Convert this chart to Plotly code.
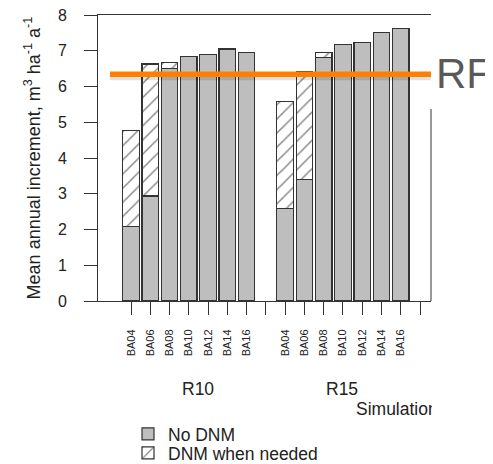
import plotly.graph_objects as go

# ---- data ----
groups = ["R10", "R15"]
scenarios = ["BA04", "BA06", "BA08", "BA10", "BA12", "BA14", "BA16"]
r10_no_dnm = [2.08, 2.94, 6.51, 6.85, 6.90, 7.05, 6.94]
r10_dnm_total = [4.76, 6.63, 6.68, None, None, None, None]
r15_no_dnm = [2.58, 3.40, 6.82, 7.18, 7.24, 7.52, 7.63]
r15_dnm_total = [5.59, 6.43, 6.94, None, None, None, None]
rf_level = 6.34
y_ticks = [0, 1, 2, 3, 4, 5, 6, 7, 8]

no_dnm = [r10_no_dnm, r15_no_dnm]
dnm_total = [r10_dnm_total, r15_dnm_total]

step = len(scenarios) + 1
xs, base_vals, extra_vals = [], [], []
tickvals, ticktext, gap_ticks = [], [], []
for g in range(len(groups)):
    for i, s in enumerate(scenarios):
        pos = g * step + i + 1
        xs.append(pos)
        b = no_dnm[g][i]
        t = dnm_total[g][i]
        base_vals.append(b)
        extra_vals.append(None if t is None else t - b)
        tickvals.append(pos)
        ticktext.append(s)
    gap_ticks.append(g * step + step)

FONT = "Liberation Sans, Arial, sans-serif"
TXT = "#222222"
LINE = "#333333"
OFF = 8  # page body offset

fig = go.Figure()
fig.add_trace(go.Bar(
    x=xs, y=base_vals, name="No DNM", width=0.86, legend="legend",
    marker=dict(color="#BEBEBE", line=dict(color=LINE, width=1.2)),
))
fig.add_trace(go.Bar(
    x=xs, y=extra_vals, name="DNM when needed", width=0.86, legend="legend2",
    marker=dict(color="white", line=dict(color=LINE, width=1.2),
                pattern=dict(shape="/", fgcolor="#111111", bgcolor="white",
                             size=10, solidity=0.15)),
))

# RF reference line with soft shadow
fig.add_shape(type="line", xref="x domain", yref="y", x0=0.036, x1=1.0,
              y0=rf_level - 0.07, y1=rf_level - 0.07,
              line=dict(color="rgba(0,0,0,0.12)", width=7), layer="above")
fig.add_shape(type="line", xref="x domain", yref="y", x0=0.036, x1=1.0,
              y0=rf_level, y1=rf_level,
              line=dict(color="#FF8000", width=5.5), layer="above")
# right frame line (partially hidden in original)
fig.add_shape(type="line", xref="x domain", yref="y", x0=1.0, x1=1.0,
              y0=0, y1=5.37, line=dict(color=LINE, width=1))

fig.add_annotation(text="RF", xref="paper", yref="paper", x=1.098, y=0.795,
                   xanchor="center", yanchor="middle", showarrow=False,
                   font=dict(family=FONT, size=42, color="#595959"))

# y axis title
fig.add_annotation(text="Mean annual increment, m<sup>3</sup> ha<sup>-1</sup> a<sup>-1</sup>",
                   xref="paper", yref="paper", x=-0.197, y=0.5, textangle=-90,
                   xanchor="center", yanchor="middle", showarrow=False,
                   font=dict(family=FONT, size=18, color=TXT))

# group labels
fig.add_annotation(text=groups[0], xref="paper", yref="paper", x=0.299, y=-0.308,
                   xanchor="center", yanchor="middle", showarrow=False,
                   font=dict(family=FONT, size=17.5, color=TXT))
fig.add_annotation(text=groups[1], xref="paper", yref="paper", x=0.732, y=-0.308,
                   xanchor="center", yanchor="middle", showarrow=False,
                   font=dict(family=FONT, size=17.5, color=TXT))
fig.add_annotation(text="Simulation", xref="paper", yref="paper", x=0.772, y=-0.378,
                   xanchor="left", yanchor="middle", showarrow=False, width=76,
                   align="left", borderpad=0,
                   font=dict(family=FONT, size=17.5, color=TXT))

leg_common = dict(xref="container", yref="container", xanchor="left",
                  yanchor="middle", font=dict(family=FONT, size=17.5, color=TXT),
                  bgcolor="rgba(0,0,0,0)", itemwidth=30)

fig.update_layout(
    width=493, height=464,
    margin=dict(l=98 - OFF, r=62 + OFF, t=15 - OFF, b=163 + OFF, autoexpand=False),
    plot_bgcolor="white", paper_bgcolor="white",
    barmode="stack",
    font=dict(family=FONT, color=TXT),
    showlegend=True,
    legend=dict(x=(128 - OFF) / 493, y=1 - (434 - OFF) / 464, **leg_common),
    legend2=dict(x=(128 - OFF) / 493, y=1 - (453 - OFF) / 464, **leg_common),
    xaxis=dict(range=[-0.713, 16.571], tickmode="array", tickvals=tickvals,
               ticktext=ticktext, tickangle=-90, ticks="outside", ticklen=13,
               tickcolor=LINE, showline=True, linecolor=LINE, linewidth=1,
               mirror=True, showgrid=False, zeroline=False, automargin=False,
               tickfont=dict(family=FONT, size=11, color=TXT),
               ticklabelstandoff=10, ticklabeloverflow="allow",
               minor=dict(tickmode="array", tickvals=gap_ticks, ticks="outside",
                          ticklen=13, tickcolor=LINE, showgrid=False)),
    yaxis=dict(range=[0, 8], tickvals=y_ticks, ticks="outside", ticklen=13,
               tickcolor=LINE, showline=True, linecolor=LINE, linewidth=1,
               showgrid=False, zeroline=False, automargin=False,
               tickfont=dict(family=FONT, size=16, color=TXT),
               ticklabelstandoff=14, ticklabeloverflow="allow"),
)

fig.write_html("out.html")
